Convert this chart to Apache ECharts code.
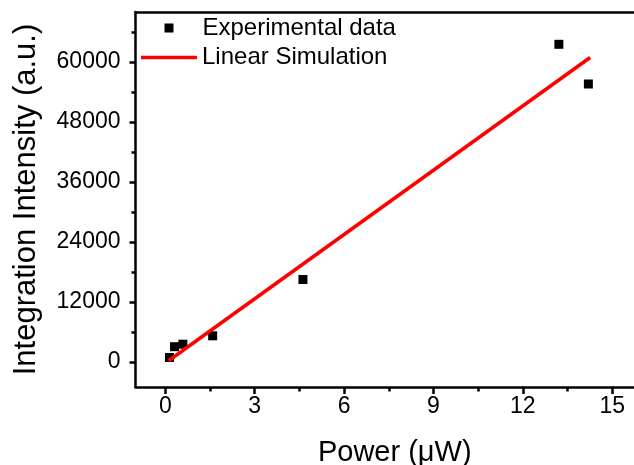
<!DOCTYPE html>
<html>
<head>
<meta charset="utf-8">
<script src="https://cdn.jsdelivr.net/npm/echarts@6/dist/echarts.min.js"></script>
<style>
  html, body { margin: 0; padding: 0; background: #fff; }
  #trendChart { width: 634px; height: 465px; }
</style>
</head>
<body>
<div id="trendChart"></div>
<script>
// measured points
const powerX = [0.14, 0.31, 0.59, 1.59, 4.62, 13.21, 14.2];
const intensity = [900, 3060, 3560, 5240, 16500, 63540, 55600];
// fitted line end points
const fitX = [0.11, 14.26];
const fitY = [250, 60900];
// ticks
const xMajor = [0, 3, 6, 9, 12, 15];
const xMinor = [1.5, 4.5, 7.5, 10.5, 13.5];
const yMajor = [0, 12000, 24000, 36000, 48000, 60000];
const yMinor = [6000, 18000, 30000, 42000, 54000, 66000];

const font = 'Liberation Sans, Arial, sans-serif';
const black = { color: '#000', width: 2.5 };
const axisLine = { show: true, onZero: false, lineStyle: black };
const noLine = { show: false, onZero: false };
const legendText = { fontFamily: font, fontSize: 24, lineHeight: 24, color: '#000' };

// evenly spaced slots spanning an axis range, used only to place major ticks
const slots = (min, max, step) => {
  const out = [];
  for (let v = min; v <= max; v += step) out.push(String(v));
  return out;
};

// overlay axis that only draws ticks
const tickAxis = (pos, min, max, values, len) => ({
  type: 'value', position: pos, min: min, max: max,
  axisLine: noLine,
  axisTick: { show: true, length: len, customValues: values, lineStyle: black },
  axisLabel: { show: false },
  splitLine: { show: false }
});
// category overlay whose ticks land on the major values
const majorAxis = (pos, min, max, step, values, len) => ({
  type: 'category', position: pos, boundaryGap: false,
  data: slots(min, max, step),
  axisLine: noLine,
  axisTick: { show: true, length: len, lineStyle: black, interval: (i, v) => values.indexOf(Number(v)) >= 0 },
  axisLabel: { show: false },
  splitLine: { show: false }
});
// overlay axis that only draws labels
const labelAxis = (pos, min, max, values, off) => ({
  type: 'value', position: pos, offset: off, min: min, max: max,
  axisLine: noLine,
  axisTick: { show: false },
  axisLabel: { customValues: values, margin: 0, fontFamily: font, fontSize: 23, color: '#000', formatter: (v) => String(v) },
  splitLine: { show: false }
});

const chart = echarts.init(document.getElementById('trendChart'));
chart.setOption({
  animation: false,
  grid: { left: 135.5, top: 12, bottom: 78, right: -8, outerBoundsMode: 'none', containLabel: false },
  legend: [{
    data: [{ name: 'Experimental data', icon: 'rect' }],
    left: 164.5, top: 16, padding: 0,
    itemWidth: 9, itemHeight: 9,
    textStyle: Object.assign({ padding: [0, 0, 0, 24] }, legendText)
  }, {
    data: [{ name: 'Linear Simulation', icon: 'rect' }],
    left: 141, top: 45.5, padding: 0,
    itemWidth: 56, itemHeight: 3.5,
    textStyle: legendText
  }],
  xAxis: [{
    type: 'value', position: 'bottom', min: -1, max: 16,
    name: 'Power (\u03bcW)', nameLocation: 'middle', nameGap: 51,
    nameTextStyle: { fontFamily: font, fontSize: 29, color: '#000', padding: [0, 0, 0, 12] },
    axisLine: axisLine,
    axisTick: { show: false },
    axisLabel: { show: false },
    splitLine: { show: false }
  },
  labelAxis('bottom', -1, 16, xMajor, 8),
  tickAxis('bottom', -1, 16, xMinor, 4.5),
  majorAxis('bottom', -1, 16, 1, xMajor, 7),
  {
    type: 'value', position: 'top', min: -1, max: 16,
    axisLine: axisLine,
    axisTick: { show: false },
    axisLabel: { show: false },
    splitLine: { show: false }
  }],
  yAxis: [{
    type: 'value', position: 'left', min: -5000, max: 70000,
    name: 'Integration Intensity (a.u.)', nameLocation: 'middle', nameGap: 94,
    nameTextStyle: { fontFamily: font, fontSize: 31, color: '#000' },
    axisLine: axisLine,
    axisTick: { show: false },
    axisLabel: { show: false },
    splitLine: { show: false }
  },
  labelAxis('left', -5000, 70000, yMajor, 15),
  tickAxis('left', -5000, 70000, yMinor, 4),
  majorAxis('left', -5000, 70000, 1000, yMajor, 6)],
  series: [{
    name: 'Experimental data',
    type: 'scatter',
    symbol: 'rect',
    symbolSize: 9,
    itemStyle: { color: '#000', opacity: 1 },
    data: powerX.map((x, i) => [x, intensity[i]])
  }, {
    name: 'Linear Simulation',
    type: 'line',
    symbol: 'none',
    lineStyle: { color: '#ff0000', width: 3.5 },
    itemStyle: { color: '#ff0000' },
    data: fitX.map((x, i) => [x, fitY[i]])
  }]
});
</script>
</body>
</html>
